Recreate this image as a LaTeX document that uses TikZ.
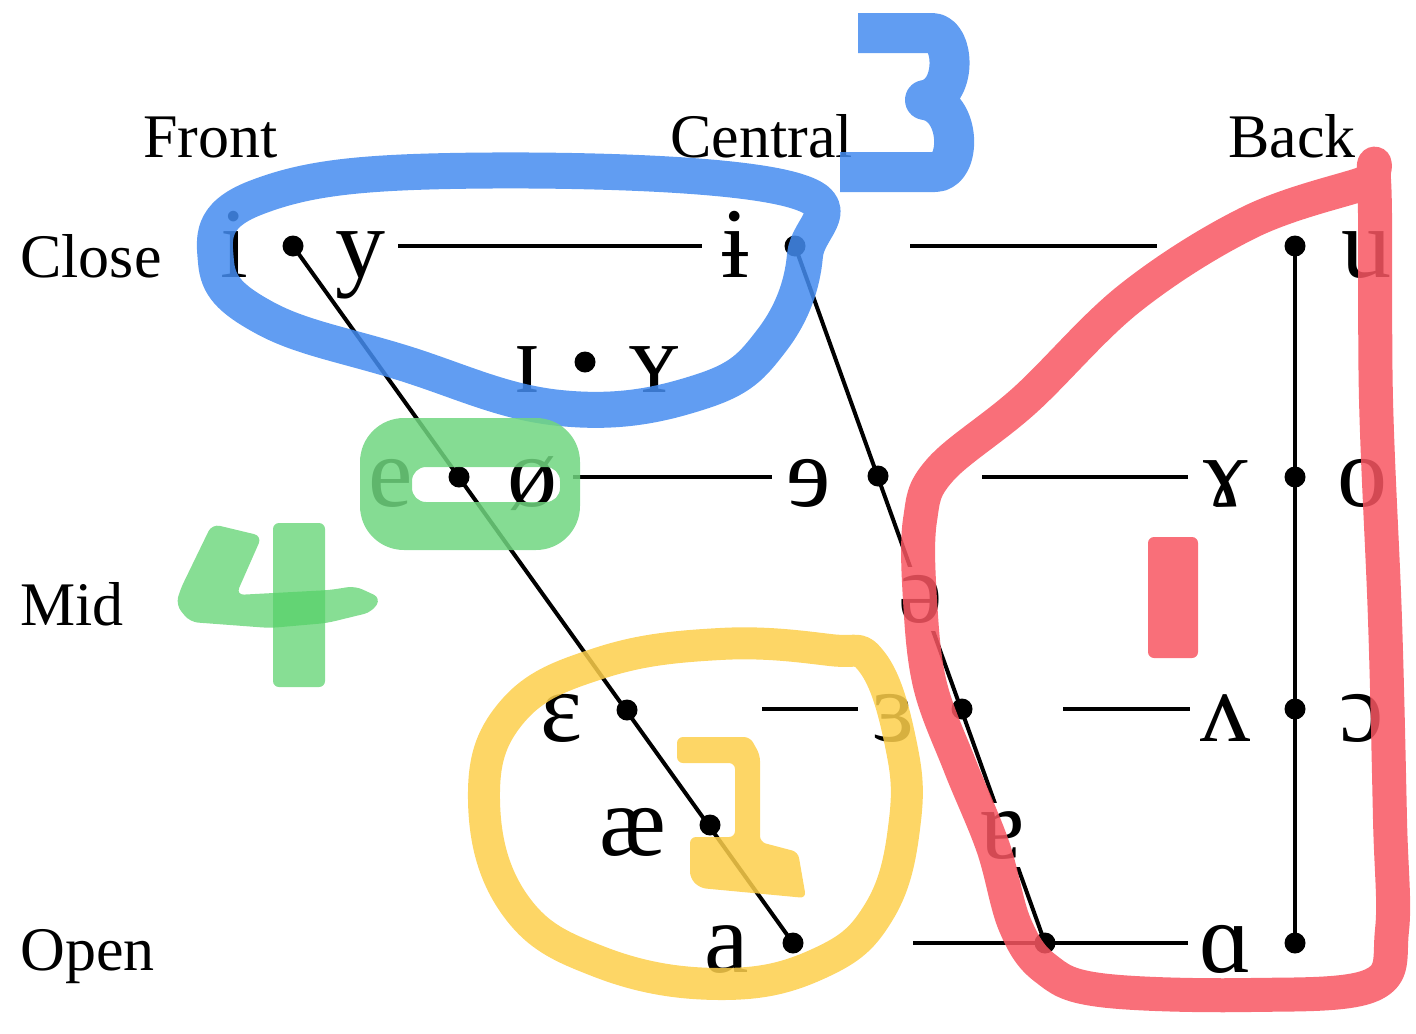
\documentclass[tikz,border=0pt]{standalone}
\usepackage{fontspec}
\setmainfont{Liberation Serif}
\definecolor{hlblue}{RGB}{69,140,240}
\definecolor{hlred}{RGB}{248,86,98}
\definecolor{hlyel}{RGB}{253,207,75}
\definecolor{hlgreen}{RGB}{112,214,128}
\definecolor{hlgreenb}{RGB}{84,208,102}
\begin{document}
\begin{tikzpicture}[x=0.5pt,y=-0.5pt,
  lab/.style={font=\fontsize{31}{31}\selectfont, anchor=base west, inner sep=0pt},
  ipa/.style={font=\fontsize{50}{50}\selectfont, anchor=base, inner sep=0pt},
  gapipa/.style={ipa, fill=white, inner sep=4pt},
  dotn/.style={circle, fill=black, inner sep=0pt, minimum size=10.5pt},
  chart/.style={line width=2pt},
  hl/.style={line cap=round, line join=round, opacity=0.85}]
\useasboundingbox (0,0) rectangle (1416,1033);
% labels
\node[lab] (lfront) at (143,157) {Front};
\node[lab] (lcentral) at (670,157) {Central};
\node[lab] (lback) at (1228,157) {Back};
\node[lab] (lclose) at (20,277) {Close};
\node[lab] (lmid) at (20,625) {Mid};
\node[lab] (lopen) at (20,970) {Open};
% dots
\node[dotn] (d1) at (293,246) {};
\node[dotn] (d2) at (795,246) {};
\node[dotn] (d3) at (1295,246) {};
\node[dotn] (d4) at (585,362) {};
\node[dotn] (d5) at (459,477) {};
\node[dotn] (d6) at (878,476) {};
\node[dotn] (d7) at (1295,477) {};
\node[dotn] (d8) at (627,710) {};
\node[dotn] (d9) at (962,709) {};
\node[dotn] (d10) at (1295,709) {};
\node[dotn] (d11) at (710,825) {};
\node[dotn] (d12) at (793,943) {};
\node[dotn] (d13) at (1045,943) {};
\node[dotn] (d14) at (1295,943) {};
% line ends
\coordinate (h1a) at (398,246); \coordinate (h1b) at (702,246);
\coordinate (h2a) at (910,246); \coordinate (h2b) at (1157,246);
\coordinate (h3a) at (573,477); \coordinate (h3b) at (772,477);
\coordinate (h4a) at (982,477); \coordinate (h4b) at (1188,477);
\coordinate (h5a) at (762,709); \coordinate (h5b) at (858,709);
\coordinate (h6a) at (1063,709); \coordinate (h6b) at (1190,709);
\coordinate (h7a) at (913,943); \coordinate (h7b) at (1188,943);
% chart lines
\draw[chart] (d1.center) -- (d12.center);
\draw[chart] (d2.center) -- (d13.center);
\draw[chart] (d3.center) -- (d14.center);
\draw[chart] (h1a) -- (h1b);
\draw[chart] (h2a) -- (h2b);
\draw[chart] (h3a) -- (h3b);
\draw[chart] (h4a) -- (h4b);
\draw[chart] (h5a) -- (h5b);
\draw[chart] (h6a) -- (h6b);
\draw[chart] (h7a) -- (h7b);
% symbols
\node[ipa] (si) at (234,277) {i};
\node[ipa] (sy) at (360,277) {y};
\node[ipa] (sib) at (735,277) {ɨ};
\node[ipa] (su) at (1366,277) {u};
\node[ipa] (sI) at (527,392) {ɪ};
\node[ipa] (sY) at (654,392) {ʏ};
\node[ipa] (se) at (391,506) {e};
\node[ipa] (so) at (532,506) {ø};
\node[ipa] (sre) at (809,506) {ɘ};
\node[ipa] (sram) at (1226,506) {ɤ};
\node[ipa] (soo) at (1362,506) {o};
\node[gapipa] (sschwa) at (921,622) {ə};
\node[ipa] (seps) at (561,741) {ɛ};
\node[ipa] (srevE) at (893,741) {ɜ};
\node[ipa] (swedge) at (1225,741) {ʌ};
\node[ipa] (sopeno) at (1362,741) {ɔ};
\node[ipa] (sae) at (633,855) {æ};
\node[gapipa] (sturna) at (1003,858) {ɐ};
\node[ipa] (sa) at (727,972) {a};
\node[ipa] (salpha) at (1226,972) {ɑ};
% highlights: blue (3)
\draw[hl, hlblue, line width=18pt] plot[smooth cycle, tension=0.7] coordinates
  {(216,262) (255,198) (450,171) (785,188) (805,255) (772,340) (700,392) (560,408) (400,362) (265,318)};
\draw[hl, hlblue, line width=20pt, line cap=butt]
  (858,33) -- (932,33) .. controls (955,33) and (958,95) .. (925,100)
  .. controls (962,105) and (962,172) .. (935,172) -- (840,172);
% red (1)
\draw[hl, hlred, line width=17pt] plot[smooth cycle, tension=0.6] coordinates
  {(1374,180) (1376,400) (1385,620) (1390,820) (1392,930) (1372,985) (1250,995) (1100,990) (1045,968) (1015,925) (993,847) (960,766) (930,685) (920,600) (920,520) (940,470) (1025,400) (1130,298) (1250,222) (1362,184)};
\fill[hl, hlred, rounded corners=3pt] (1148,537) rectangle (1198,658);
% yellow (2)
\draw[hl, hlyel, line width=16pt] plot[smooth cycle, tension=0.7] coordinates
  {(872,662) (900,740) (905,820) (880,910) (820,963) (720,984) (600,962) (515,905) (484,800) (512,712) (600,663) (720,644) (830,650)};
\fill[hl, hlyel, rounded corners=3pt]
  (677,737) -- (750,737) -- (760,755) -- (760,842) -- (798,852) -- (806,898) -- (700,888)
  -- (690,878) -- (690,837) -- (735,837) -- (735,763) -- (677,763) -- cycle;
% green (4)
\fill[hl, hlgreen, even odd rule]
  [rounded corners=22pt] (360,418) -- (580,418) -- (580,550) -- (360,550) -- cycle
  [rounded corners=7pt] (412,467) -- (560,467) -- (560,502) -- (412,502) -- cycle;
\fill[hlgreenb, opacity=0.7, rounded corners=4pt]
  (212,524) -- (262,536) -- (236,595) -- (330,590) -- (355,586) -- (381,598) -- (372,612)
  -- (327,623) -- (270,628) -- (190,622) -- (176,605) -- (180,590) -- cycle;
\fill[hlgreenb, opacity=0.7, rounded corners=3pt] (273,523) rectangle (325,687);
\end{tikzpicture}
\end{document}
